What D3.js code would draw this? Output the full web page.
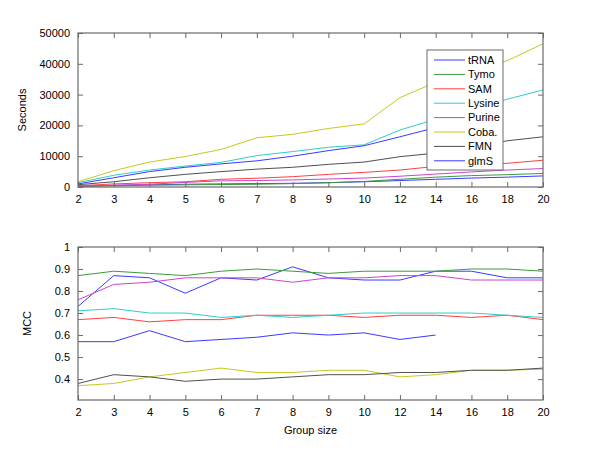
<!DOCTYPE html>
<html>
<head>
<meta charset="utf-8">
<script src="https://cdn.jsdelivr.net/npm/d3@7"></script>
<style>
html,body{margin:0;padding:0;background:#fff;}
svg text{font-family:"Liberation Sans",Arial,Helvetica,sans-serif;}
</style>
</head>
<body>
<svg id="chart" width="600" height="450"></svg>
<script>
const groups = [2,3,4,5,6,7,8,9,10,12,14,16,18,20];
const seriesNames = ["tRNA","Tymo","SAM","Lysine","Purine","Coba.","FMN","glmS"];
const seriesColors = ["#3a3aff","#3c9a3c","#ff4040","#30cccc","#cc44cc","#c8c820","#505050","#3a3aff"];

// Seconds (top panel)
const secTRNA   = [300,500,700,900,1000,1100,1200,1400,1700,2100,2500,2900,3200,3600];
const secTymo   = [200,400,600,700,800,900,1100,1400,1800,2500,3200,3700,4000,4400];
const secSAM    = [400,1000,1400,1700,2500,2850,3350,4100,4750,5500,6700,7100,7700,8700];
const secLysine = [1400,3800,5500,6800,8000,10200,11500,12900,13700,18500,22000,25000,28500,31500];
const secPurine = [200,600,900,1500,2000,2100,2300,2600,2900,3500,4200,4900,5500,6000];
const secCoba   = [1700,5300,8100,9900,12200,16000,17100,19000,20500,29000,34000,38000,41000,46500];
const secFMN    = [750,1700,3000,4100,5000,5800,6400,7350,8100,9850,11000,13000,15000,16300];
const secGlmS   = [1000,3000,5000,6400,7500,8500,10000,11800,13400,16300,19300];

// MCC (bottom panel)
const mccTRNA   = [0.73,0.87,0.86,0.79,0.86,0.85,0.91,0.86,0.85,0.85,0.89,0.89,0.86,0.86];
const mccTymo   = [0.87,0.89,0.88,0.87,0.89,0.90,0.89,0.88,0.89,0.89,0.89,0.90,0.90,0.89];
const mccSAM    = [0.67,0.68,0.66,0.67,0.67,0.69,0.69,0.69,0.68,0.69,0.69,0.68,0.69,0.67];
const mccLysine = [0.71,0.72,0.70,0.70,0.68,0.69,0.68,0.69,0.70,0.70,0.70,0.70,0.69,0.68];
const mccPurine = [0.76,0.83,0.84,0.86,0.86,0.86,0.84,0.86,0.86,0.87,0.87,0.85,0.85,0.85];
const mccCoba   = [0.37,0.38,0.41,0.43,0.45,0.43,0.43,0.44,0.44,0.41,0.42,0.44,0.44,0.445];
const mccFMN    = [0.38,0.42,0.41,0.39,0.40,0.40,0.41,0.42,0.42,0.43,0.43,0.44,0.44,0.45];
const mccGlmS   = [0.57,0.57,0.62,0.57,0.58,0.59,0.61,0.60,0.61,0.58,0.60];

const secTicks = [0,10000,20000,30000,40000,50000];
const mccTicks = [0.4,0.5,0.6,0.7,0.8,0.9,1];

const secSeries = [secTRNA,secTymo,secSAM,secLysine,secPurine,secCoba,secFMN,secGlmS];
const mccSeries = [mccTRNA,mccTymo,mccSAM,mccLysine,mccPurine,mccCoba,mccFMN,mccGlmS];

const svg = d3.select("#chart");
const x = d3.scalePoint().domain(groups).range([78,543]);
const axisColor = "#6a6a6a";
const tickLen = 5;

function panel(yScale, yTicks, series, yLabel, yFmt, xLabel) {
  const [y0, y1] = yScale.range(); // bottom, top
  const g = svg.append("g");
  const left = x.range()[0], right = x.range()[1];
  // lines
  const line = (vals) => d3.line().x((d,i)=>x(groups[i])).y(d=>yScale(d))(vals);
  series.forEach((vals, k) => {
    g.append("path").attr("d", line(vals)).attr("fill","none")
      .attr("stroke", seriesColors[k]).attr("stroke-width",1);
  });
  // x axes (bottom with labels, top without)
  const xb = g.append("g").attr("transform",`translate(0,${y0})`)
    .call(d3.axisBottom(x).tickSize(-tickLen).tickPadding(8));
  const xt = g.append("g").attr("transform",`translate(0,${y1})`)
    .call(d3.axisTop(x).tickSize(-tickLen).tickFormat(""));
  const yl = g.append("g").attr("transform",`translate(${left},0)`)
    .call(d3.axisLeft(yScale).tickValues(yTicks).tickSize(-tickLen).tickPadding(8).tickFormat(yFmt));
  const yr = g.append("g").attr("transform",`translate(${right},0)`)
    .call(d3.axisRight(yScale).tickValues(yTicks).tickSize(-tickLen).tickFormat(""));
  [xb,xt,yl,yr].forEach(a => {
    a.selectAll(".domain").attr("stroke",axisColor).attr("stroke-width",1.2);
    a.selectAll(".tick line").attr("stroke",axisColor);
    a.selectAll("text").attr("fill","#000").style("font-size","11px");
    a.select(".domain").attr("d", null);
  });
  // box
  g.append("rect").attr("x",left).attr("y",y1).attr("width",right-left).attr("height",y0-y1)
    .attr("fill","none").attr("stroke",axisColor).attr("stroke-width",1.2);
  // y label
  g.append("text").attr("transform",`translate(${left-52},${(y0+y1)/2}) rotate(-90)`)
    .attr("text-anchor","middle").style("font-size","11px").text(yLabel);
  if (xLabel) {
    g.append("text").attr("x",(left+right)/2).attr("y",y0+34)
      .attr("text-anchor","middle").style("font-size","11px").text(xLabel);
  }
  return g;
}

const ySec = d3.scaleLinear().domain([0,50000]).range([187,33]);
const yMcc = d3.scaleLinear().domain([0.305,1]).range([400,247]);

panel(ySec, secTicks, secSeries, "Seconds", d3.format("d"), null);
const bottom = panel(yMcc, mccTicks, mccSeries, "MCC", d => d===1 ? "1" : d3.format(".1f")(d), "Group size");
bottom.select("text[transform]").attr("transform",`translate(31,${(400+247)/2}) rotate(-90)`);

// legend
const lg = svg.append("g").attr("transform","translate(427,50)");
lg.append("rect").attr("x",0).attr("y",0).attr("width",76).attr("height",120)
  .attr("fill","#fff").attr("stroke",axisColor).attr("stroke-width",1);
seriesNames.forEach((name,k) => {
  const yy = 10 + k*14.4;
  lg.append("line").attr("x1",7).attr("x2",38).attr("y1",yy).attr("y2",yy)
    .attr("stroke",seriesColors[k]).attr("stroke-width",1);
  lg.append("text").attr("x",41).attr("y",yy).attr("dy","0.35em")
    .style("font-size","11px").text(name);
});
</script>
</body>
</html>
